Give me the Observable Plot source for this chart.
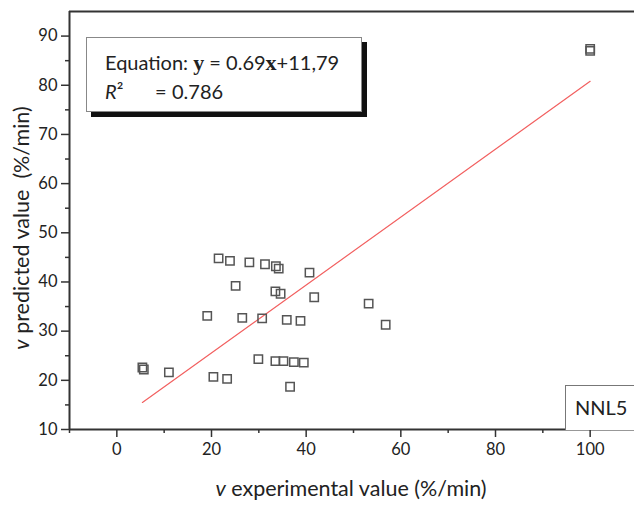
<!DOCTYPE html>
<html>
<head>
<meta charset="utf-8">
<script src="https://cdn.jsdelivr.net/npm/d3@7"></script>
<script src="https://cdn.jsdelivr.net/npm/@observablehq/plot@0.6"></script>
<style>
  html, body { margin: 0; padding: 0; background: #fff; }
  #wrap { position: relative; width: 634px; height: 505px; overflow: hidden; font-family: Lato, "Open Sans", sans-serif; color: #222; }
  .legend { position: absolute; left: 86px; top: 37px; width: 274px; height: 73px; border: 1px solid #888; background: #fff; box-shadow: 5px 5px 0 #111; }
  .legend .l1 { position: absolute; left: 18px; top: 12px; font-size: 20px; white-space: pre; }
  .legend .r { position: absolute; left: 18px; top: 41px; font-size: 20px; }
  .legend .eq { position: absolute; left: 68px; top: 41px; font-size: 20px; }
  .legend .rv { position: absolute; left: 85px; top: 41px; font-size: 20px; }
  .serifb { font-family: "Liberation Serif", "DejaVu Serif", serif; font-weight: bold; font-size: 22px; }
  .tag { position: absolute; left: 565px; top: 385px; width: 80px; height: 44px; border: 1px solid #777; border-bottom: none; background: #fff; }
  .tag span { position: absolute; left: 9px; top: 9px; font-size: 20px; }
  .xlab { position: absolute; left: 0; width: 702px; top: 475px; text-align: center; font-size: 21.5px; white-space: pre; }
  .ylab { position: absolute; left: 21px; top: 228px; transform: translate(-50%, -50%) rotate(-90deg); font-size: 21.5px; white-space: pre; }
</style>
</head>
<body>
<div id="wrap"></div>
<script>
const experimental = [21.5, 23.9, 28.0, 31.3, 33.6, 34.2, 40.7, 25.1, 33.5, 34.6, 41.7, 53.2, 56.8,
  19.1, 26.5, 30.7, 35.9, 38.8, 5.4, 5.7, 11.0, 20.4, 23.3, 29.9, 33.5, 35.2, 37.4, 39.5, 36.6, 100, 100];
const predicted = [44.8, 44.3, 44.0, 43.6, 43.2, 42.7, 41.9, 39.2, 38.1, 37.6, 36.9, 35.6, 31.3,
  33.1, 32.7, 32.6, 32.3, 32.1, 22.6, 22.2, 21.6, 20.7, 20.3, 24.3, 23.9, 23.9, 23.7, 23.6, 18.7, 87.4, 87.0];
// Fitted line end points
const fitX = [5.4, 100];
const fitY = [15.5, 80.8];
const xMajorTicks = [0, 20, 40, 60, 80, 100];
const xMinorTicks = [-10, 10, 30, 50, 70, 90];
const yMajorTicks = [10, 20, 30, 40, 50, 60, 70, 80, 90];
const yMinorTicks = [15, 25, 35, 45, 55, 65, 75, 85];

const points = experimental.map((x, i) => ({x, y: predicted[i]}));
const fit = fitX.map((x, i) => ({x, y: fitY[i]}));

const axisColor = "#333";
const chart = Plot.plot({
  width: 634,
  height: 505,
  marginLeft: 69,
  marginTop: 11,
  marginBottom: 76,
  marginRight: -3,
  style: {fontFamily: "Lato, 'Open Sans', sans-serif", fontSize: "16.5px", color: "#222", background: "#fff"},
  x: {domain: [-10, 110]},
  y: {domain: [10, 95]},
  marks: [
    Plot.axisX({ticks: xMinorTicks, tickSize: 4, tickFormat: () => "", label: null, stroke: axisColor, strokeWidth: 1.5}),
    Plot.axisX({ticks: xMajorTicks, tickSize: 8, tickPadding: 6, label: null, stroke: axisColor, strokeWidth: 1.5, fontSize: 16.5}),
    Plot.axisY({ticks: yMinorTicks, tickSize: 4, tickFormat: () => "", label: null, stroke: axisColor, strokeWidth: 1.5}),
    Plot.axisY({ticks: yMajorTicks, tickSize: 8, tickPadding: 4, label: null, stroke: axisColor, strokeWidth: 1.5, fontSize: 16.5}),
    Plot.ruleY([10], {stroke: axisColor, strokeWidth: 2}),
    Plot.ruleY([95], {stroke: axisColor, strokeWidth: 2}),
    Plot.ruleX([-10], {stroke: axisColor, strokeWidth: 2}),
    Plot.line(fit, {x: "x", y: "y", stroke: "#f26060", strokeWidth: 1.2}),
    Plot.dot(points, {x: "x", y: "y", symbol: "square", r: 4.7, stroke: "#555", fill: "none", strokeWidth: 1.5})
  ]
});
const wrap = document.getElementById("wrap");
wrap.appendChild(chart);

const add = (html) => { const d = document.createElement("div"); d.innerHTML = html; wrap.appendChild(d.firstElementChild); };
add('<div class="legend"><div class="l1">Equation: <span class="serifb">y</span> = 0.69<span class="serifb">x</span>+11,79</div><div class="r"><i>R</i>²</div><div class="eq">=</div><div class="rv">0.786</div></div>');
add('<div class="tag"><span>NNL5</span></div>');
add('<div class="xlab"><i>v</i> experimental value (%/min)</div>');
add('<div class="ylab"><i>v</i> predicted value  (%/min)</div>');
</script>
</body>
</html>
